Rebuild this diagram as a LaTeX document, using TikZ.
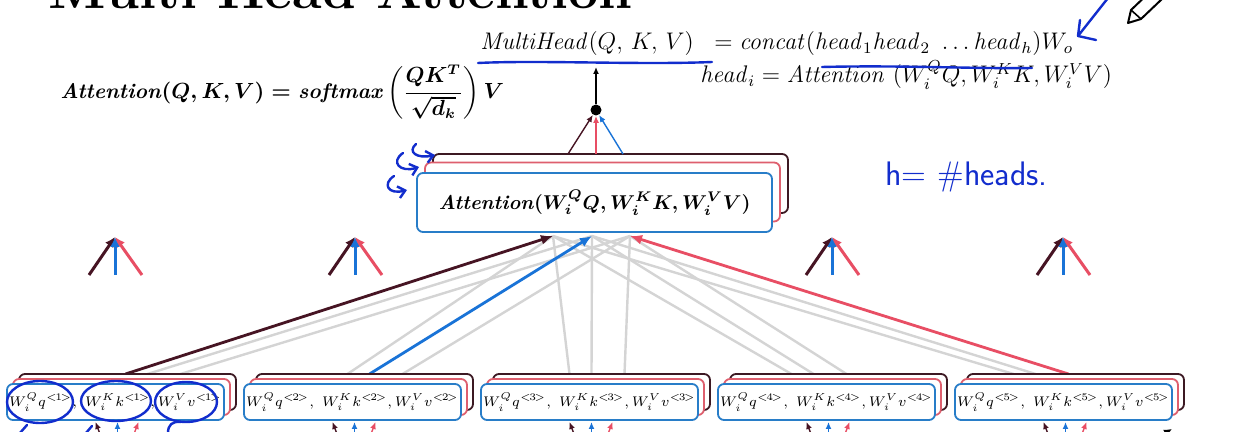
\documentclass[tikz,border=0pt]{standalone}
\usepackage{amsmath}
\usetikzlibrary{arrows.meta,calc}
\definecolor{qdark}{RGB}{70,20,35}
\definecolor{kblue}{RGB}{25,115,215}
\definecolor{vpink}{RGB}{232,78,100}
\definecolor{bblue}{RGB}{40,125,200}
\definecolor{bpink}{RGB}{222,95,110}
\definecolor{bdark}{RGB}{60,25,35}
\definecolor{lgrey}{RGB}{212,212,212}
\definecolor{ink}{RGB}{18,45,205}
\newsavebox{\attformbox}
\newsavebox{\mhleftbox}
\newsavebox{\mhrightbox}
\newsavebox{\headibox}
\newsavebox{\attinbox}
\newcommand{\myidx}[1]{{<\mkern-2mu#1\mkern-2mu>}}
\newcommand{\myterms}[1]{$W_i^Qq^{\myidx{#1}},\ W_i^Kk^{\myidx{#1}},W_i^Vv^{\myidx{#1}}$}
\tikzset{
  frontbox/.style={draw=bblue, fill=white, rounded corners=3pt, line width=0.9pt, inner sep=0pt},
  midbox/.style={draw=bpink, fill=white, rounded corners=3pt, line width=0.9pt, inner sep=0pt},
  backbox/.style={draw=bdark, fill=white, rounded corners=3pt, line width=0.9pt, inner sep=0pt},
  smallbox/.style={minimum width=108.5pt, minimum height=18pt},
  bigbox/.style={minimum width=177.5pt, minimum height=29.5pt},
  feed/.style={draw=lgrey, line width=1.2pt},
  hot/.style={line width=1.4pt, -{Latex[length=6pt,width=5pt]}},
  trip/.style={line width=1.5pt, -{Latex[length=5pt,width=5pt]}},
  thinarrow/.style={line width=0.7pt, -{Latex[length=3.5pt,width=3pt]}},
  inkline/.style={draw=ink, line width=1.2pt, line cap=round, line join=round},
  formulatext/.style={inner sep=0pt},
}
\begin{document}
\sbox{\attformbox}{\fontsize{10.6}{13}\selectfont\boldmath$\textbf{\textit{Attention}}(Q,K,V)=\textbf{\textit{softmax}}\left(\dfrac{QK^T}{\sqrt{d_k}}\right)V$}%
\sbox{\mhleftbox}{\fontsize{12}{14}\selectfont$\mathit{MultiHead}(Q,\,K,\,V)$}%
\sbox{\mhrightbox}{\fontsize{12}{14}\selectfont$=\mathit{concat}(\mathit{head}_1\mathit{head}_2\ \ldots\mathit{head}_h)W_o$}%
\sbox{\headibox}{\fontsize{11.5}{14}\selectfont$\mathit{head}_i=\mathit{Attention}\ (W_i^QQ,W_i^KK,W_i^VV)$}%
\sbox{\attinbox}{\fontsize{10}{12}\selectfont\boldmath$\textbf{\textit{Attention}}(W_i^QQ,W_i^KK,W_i^VV)$}%
\begin{tikzpicture}[x=0.5pt,y=-0.5pt]
\useasboundingbox (0,0) rectangle (1258,432);
\clip (0,0) rectangle (1258,432);
\fill[white] (0,0) rectangle (1258,432);

% title (cut off at the top)
\node[anchor=base west, inner sep=0pt, font=\fontsize{27}{32}\selectfont\bfseries] (title) at (48,9) {Multi-Head Attention};

% formulas
\node[formulatext, anchor=west] (attf) at (60,92) {\usebox{\attformbox}};
\node[formulatext, anchor=base west] (mh) at (480,50) {\usebox{\mhleftbox}};
\node[formulatext, anchor=base west] (mhr) at (714,50) {\usebox{\mhrightbox}};
\node[formulatext, anchor=base west] (hd) at (700,83) {\usebox{\headibox}};

% target points under the central box
\coordinate (tq) at (553,236);
\coordinate (tk) at (592,236);
\coordinate (tv) at (630,236);

% origins on the bottom stacks
\foreach \i in {0,...,4}{
  \pgfmathsetmacro{\cx}{115.5+237*\i}
  \pgfmathsetmacro{\qx}{\cx+10-15*\i}
  \coordinate (b\i-q) at (\qx,374);
  \coordinate (b\i-k) at (\qx+22,374);
  \coordinate (b\i-v) at (\qx+55,374);
}

% grey feed lines
\foreach \i/\s in {0/k,0/v,1/q,1/v,2/q,2/k,2/v,3/q,3/k,3/v,4/q,4/k}{
  \draw[feed] (b\i-\s) -- (t\s);
}
% highlighted feed lines
\draw[hot, qdark] (b0-q) -- (tq);
\draw[hot, kblue] (b1-k) -- (tk);
\draw[hot, vpink] (b4-v) -- (tv);

% central stack
\node[backbox, bigbox] (attC) at (610.5,183.5) {};
\node[midbox, bigbox] (attB) at (602.5,192) {};
\node[frontbox, bigbox] (att) at (594.5,202.5) {\usebox{\attinbox}};

% concat dot and output arrow
\node[circle, fill=black, inner sep=0pt, minimum size=5.5pt] (dot) at (596,110) {};
\coordinate (mhu) at (596,67);
\coordinate (o1) at (568,154);
\coordinate (o2) at (596,154);
\coordinate (o3) at (623,154);
\draw[thinarrow, qdark] (o1) -- (dot);
\draw[thinarrow, vpink] (o2) -- (dot);
\draw[thinarrow, kblue] (o3) -- (dot);
\draw[thinarrow, black] (dot) -- (mhu);

% small triplets
\foreach \pp/\xx in {a/115,b/355,c/832,d/1063}{
  \coordinate (p\pp) at (\xx,237);
  \coordinate (p\pp-q) at (\xx-26,275);
  \coordinate (p\pp-k) at (\xx,275);
  \coordinate (p\pp-v) at (\xx+27,275);
  \draw[trip, qdark] (p\pp-q) -- (p\pp);
  \draw[trip, vpink] (p\pp-v) -- (p\pp);
  \draw[trip, kblue] (p\pp-k) -- (p\pp);
}

% bottom stacks
\foreach \i in {0,...,4}{
  \pgfmathsetmacro{\cx}{115.5+237*\i}
  \pgfmathtruncatemacro{\nn}{\i+1}
  \node[backbox, smallbox] (s\i-c) at (\cx+12,392) {};
  \node[midbox, smallbox] (s\i-b) at (\cx+6,397) {};
  \node[frontbox, smallbox, font=\fontsize{7.5}{9}\selectfont] (s\i) at (\cx,402) {\myterms{\nn}};
  \coordinate (s\i-iq) at (\cx-14,438);
  \coordinate (s\i-tq) at (\cx-20,422);
  \coordinate (s\i-ik) at (\cx+2,438);
  \coordinate (s\i-tk) at (\cx+2,422);
  \coordinate (s\i-iv) at (\cx+17,438);
  \coordinate (s\i-tv) at (\cx+23,422);
  \draw[thinarrow, qdark] (s\i-iq) -- (s\i-tq);
  \draw[thinarrow, kblue] (s\i-ik) -- (s\i-tk);
  \draw[thinarrow, vpink] (s\i-iv) -- (s\i-tv);
}

% black arrow at bottom right
\coordinate (br1) at (1160,436);
\coordinate (br2) at (1172,429);
\draw[line width=1pt, -{Latex[length=4pt,width=4pt]}] (br1) -- (br2);

% hand-drawn ink annotations
\draw[inkline] (478,63) .. controls (540,60) and (640,65) .. (712,62);
\draw[inkline] (822,67) .. controls (900,65) and (980,69) .. (1032,68);
\draw[inkline] (1108,-2) -- (1078,36);
\draw[inkline] (1080,20) -- (1078,36) -- (1096,40);
\draw[inkline, -{Straight Barb[length=3.5pt,width=6pt]}] (394,176) .. controls (382,184) and (388,195) .. (407,190);
\draw[inkline, -{Straight Barb[length=3.5pt,width=6pt]}] (403,153) .. controls (390,162) and (400,173) .. (419,167);
\draw[inkline, -{Straight Barb[length=3.5pt,width=6pt]}] (416,144) .. controls (407,152) and (417,159) .. (435,155);
\node[text=ink, anchor=west, inner sep=0pt, font=\sffamily\fontsize{17}{20}\selectfont] (hh) at (885,177) {h= \#heads.};
\draw[inkline] (40,402) ellipse [x radius=16.5pt, y radius=10.5pt];
\draw[inkline] (116,401) ellipse [x radius=17.5pt, y radius=10pt];
\draw[inkline] (186,402) ellipse [x radius=15.5pt, y radius=10pt];
\draw[inkline] (20,433) -- (27,425);
\draw[inkline] (86,433) -- (92,426);
\draw[inkline] (168,433) .. controls (168,425) and (172,421) .. (181,422);

% pen cursor
\draw[line width=1pt, line join=round, fill=white] (1128,23) -- (1131,10) -- (1152,-10) -- (1162,-1) -- (1141,19) -- cycle;
\draw[line width=0.8pt] (1131,10) -- (1141,19);
\end{tikzpicture}
\end{document}
